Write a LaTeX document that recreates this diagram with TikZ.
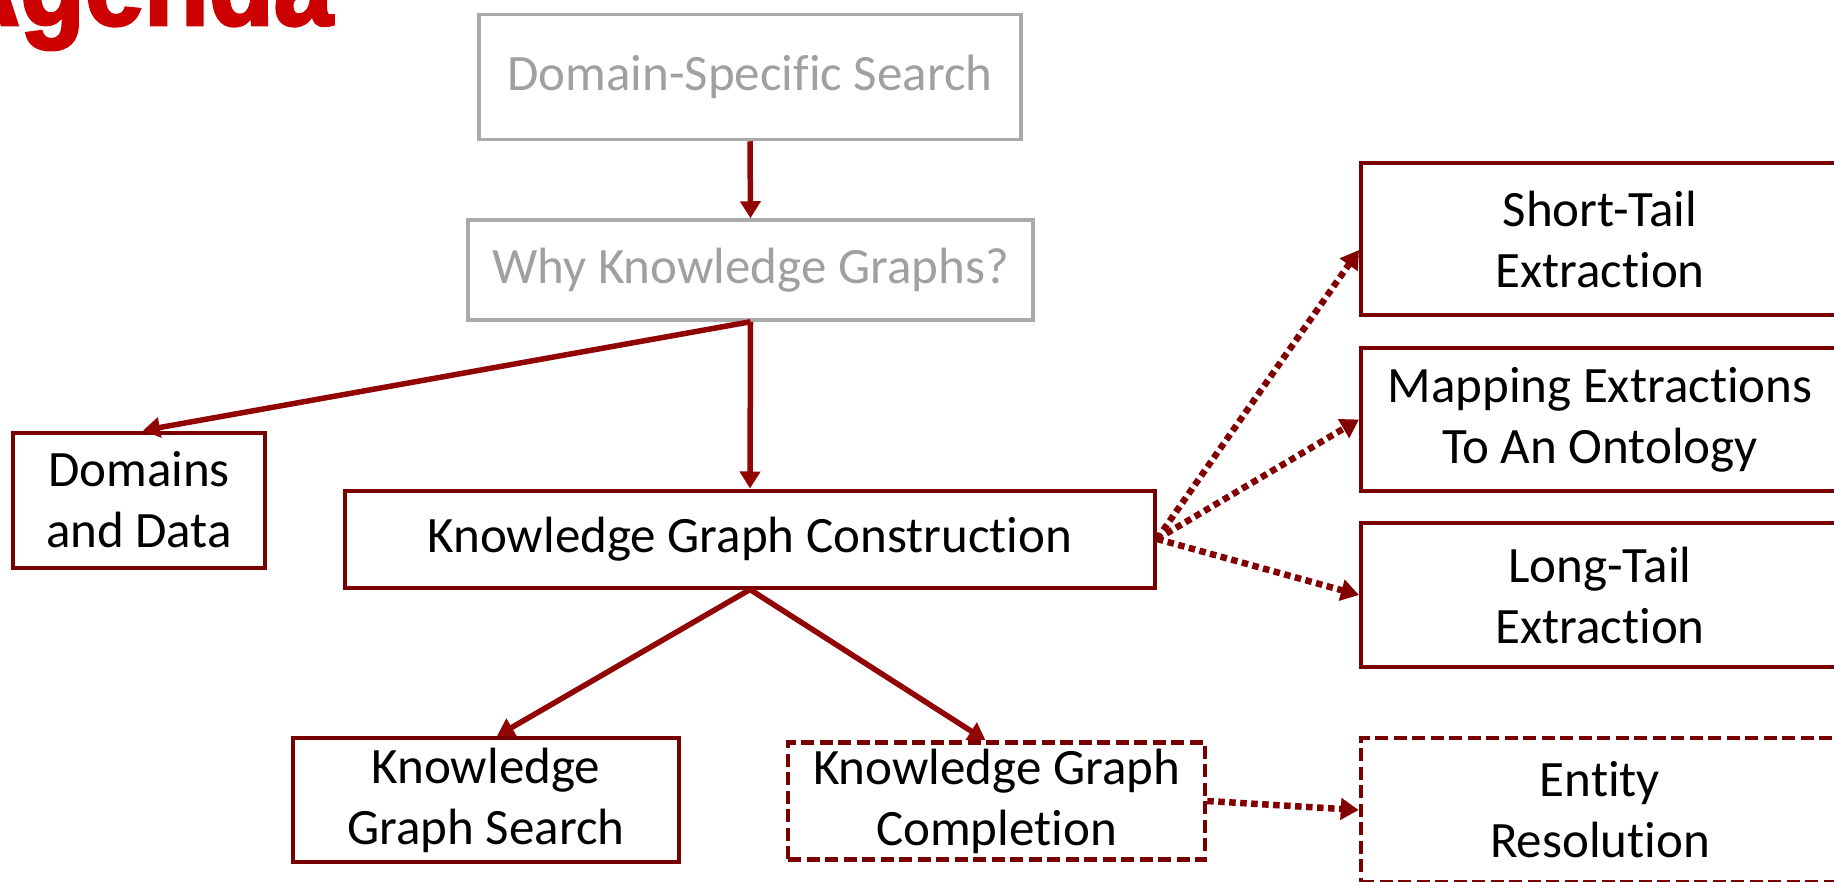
\documentclass[tikz,border=0pt]{standalone}
\usepackage{fontspec}
\setmainfont{Carlito}[Ligatures=NoCommon,Contextuals=NoAlternate]
\newfontfamily\titlefont[FakeStretch=0.9,FakeBold=2.5]{Liberation Sans}
\usetikzlibrary{arrows.meta}

\definecolor{boxred}{RGB}{120,0,0}
\definecolor{arrowred}{RGB}{145,5,5}
\definecolor{dotred}{RGB}{130,0,0}
\definecolor{softgray}{RGB}{170,170,170}
\definecolor{graytext}{RGB}{160,160,160}
\definecolor{titlered}{RGB}{204,0,0}

\tikzset{
  every node/.style={font=\fontsize{51}{61}\selectfont, align=center, inner sep=0pt},
  graybox/.style={draw=softgray, line width=3.5pt, text=graytext},
  redbox/.style={draw=boxred, line width=4pt, text=black},
  dashbox/.style={draw=boxred, line width=4.5pt, dash pattern=on 13pt off 5.5pt, text=black},
  solidarrow/.style={draw=arrowred, line width=5.5pt,
    -{Triangle[width=20pt,length=17pt]}},
  dotarrow/.style={draw=dotred, line width=6.5pt, dash pattern=on 6.5pt off 4.5pt,
    -{Triangle[width=21pt,length=18pt]}},
}

\begin{document}
\begin{tikzpicture}[x=1pt,y=-1pt]
  \useasboundingbox (0,0) rectangle (1834,881);
  \clip (0,0) rectangle (1834,881);

  % heading, mostly above the visible area
  \node[anchor=base east, text=titlered,
        font=\titlefont\bfseries\fontsize{118}{118}\selectfont] (title) at (333,25) {Agenda};

  % upper (greyed) topics
  \node[graybox, minimum width=542pt, minimum height=125pt] (dss) at (750,77) {\raisebox{-4pt}{Domain-Specific Search}};
  \node[graybox, minimum width=565pt, minimum height=100pt] (wkg) at (750.5,270) {Why Knowledge Graphs?};

  % current topics
  \node[redbox, minimum width=252pt, minimum height=135pt] (dom) at (139,500) {Domains\\and Data};
  \node[redbox, minimum width=810pt, minimum height=97pt] (kgc) at (750,539) {Knowledge Graph Construction};
  \node[redbox, minimum width=386pt, minimum height=124pt] (kgs) at (486,800) {Knowledge\\Graph Search};
  \node[dashbox, minimum width=417pt, minimum height=117pt] (kgco) at (996.5,801) {Knowledge Graph\\Completion};

  % construction sub-topics
  \node[redbox, minimum width=478pt, minimum height=152pt] (st) at (1600,239) {Short-Tail\\Extraction};
  \node[redbox, minimum width=478pt, minimum height=143pt] (map) at (1600,419.5) {Mapping Extractions\\To An Ontology};
  \node[redbox, minimum width=478pt, minimum height=144pt] (lt) at (1600,595) {Long-Tail\\Extraction};
  \node[dashbox, minimum width=478pt, minimum height=144pt] (er) at (1600,810) {Entity\\Resolution};

  % connectors
  \draw[solidarrow] (dss.south) -- (wkg.north);
  \draw[solidarrow] (wkg.south) -- ([xshift=4pt]dom.north);
  \draw[solidarrow] (wkg.south) -- (kgc.north);
  \draw[solidarrow] (kgc.south) -- ([xshift=11pt]kgs.north);
  \draw[solidarrow] (kgc.south) -- ([xshift=-11pt]kgco.north);

  \draw[dotarrow] (kgc.east) -- ([yshift=-11pt]st.west);
  \draw[dotarrow] (kgc.east) -- (map.west);
  \draw[dotarrow] (kgc.east) -- (lt.west);
  \draw[dotarrow] (kgco.east) -- (er.west);
\end{tikzpicture}
\end{document}
